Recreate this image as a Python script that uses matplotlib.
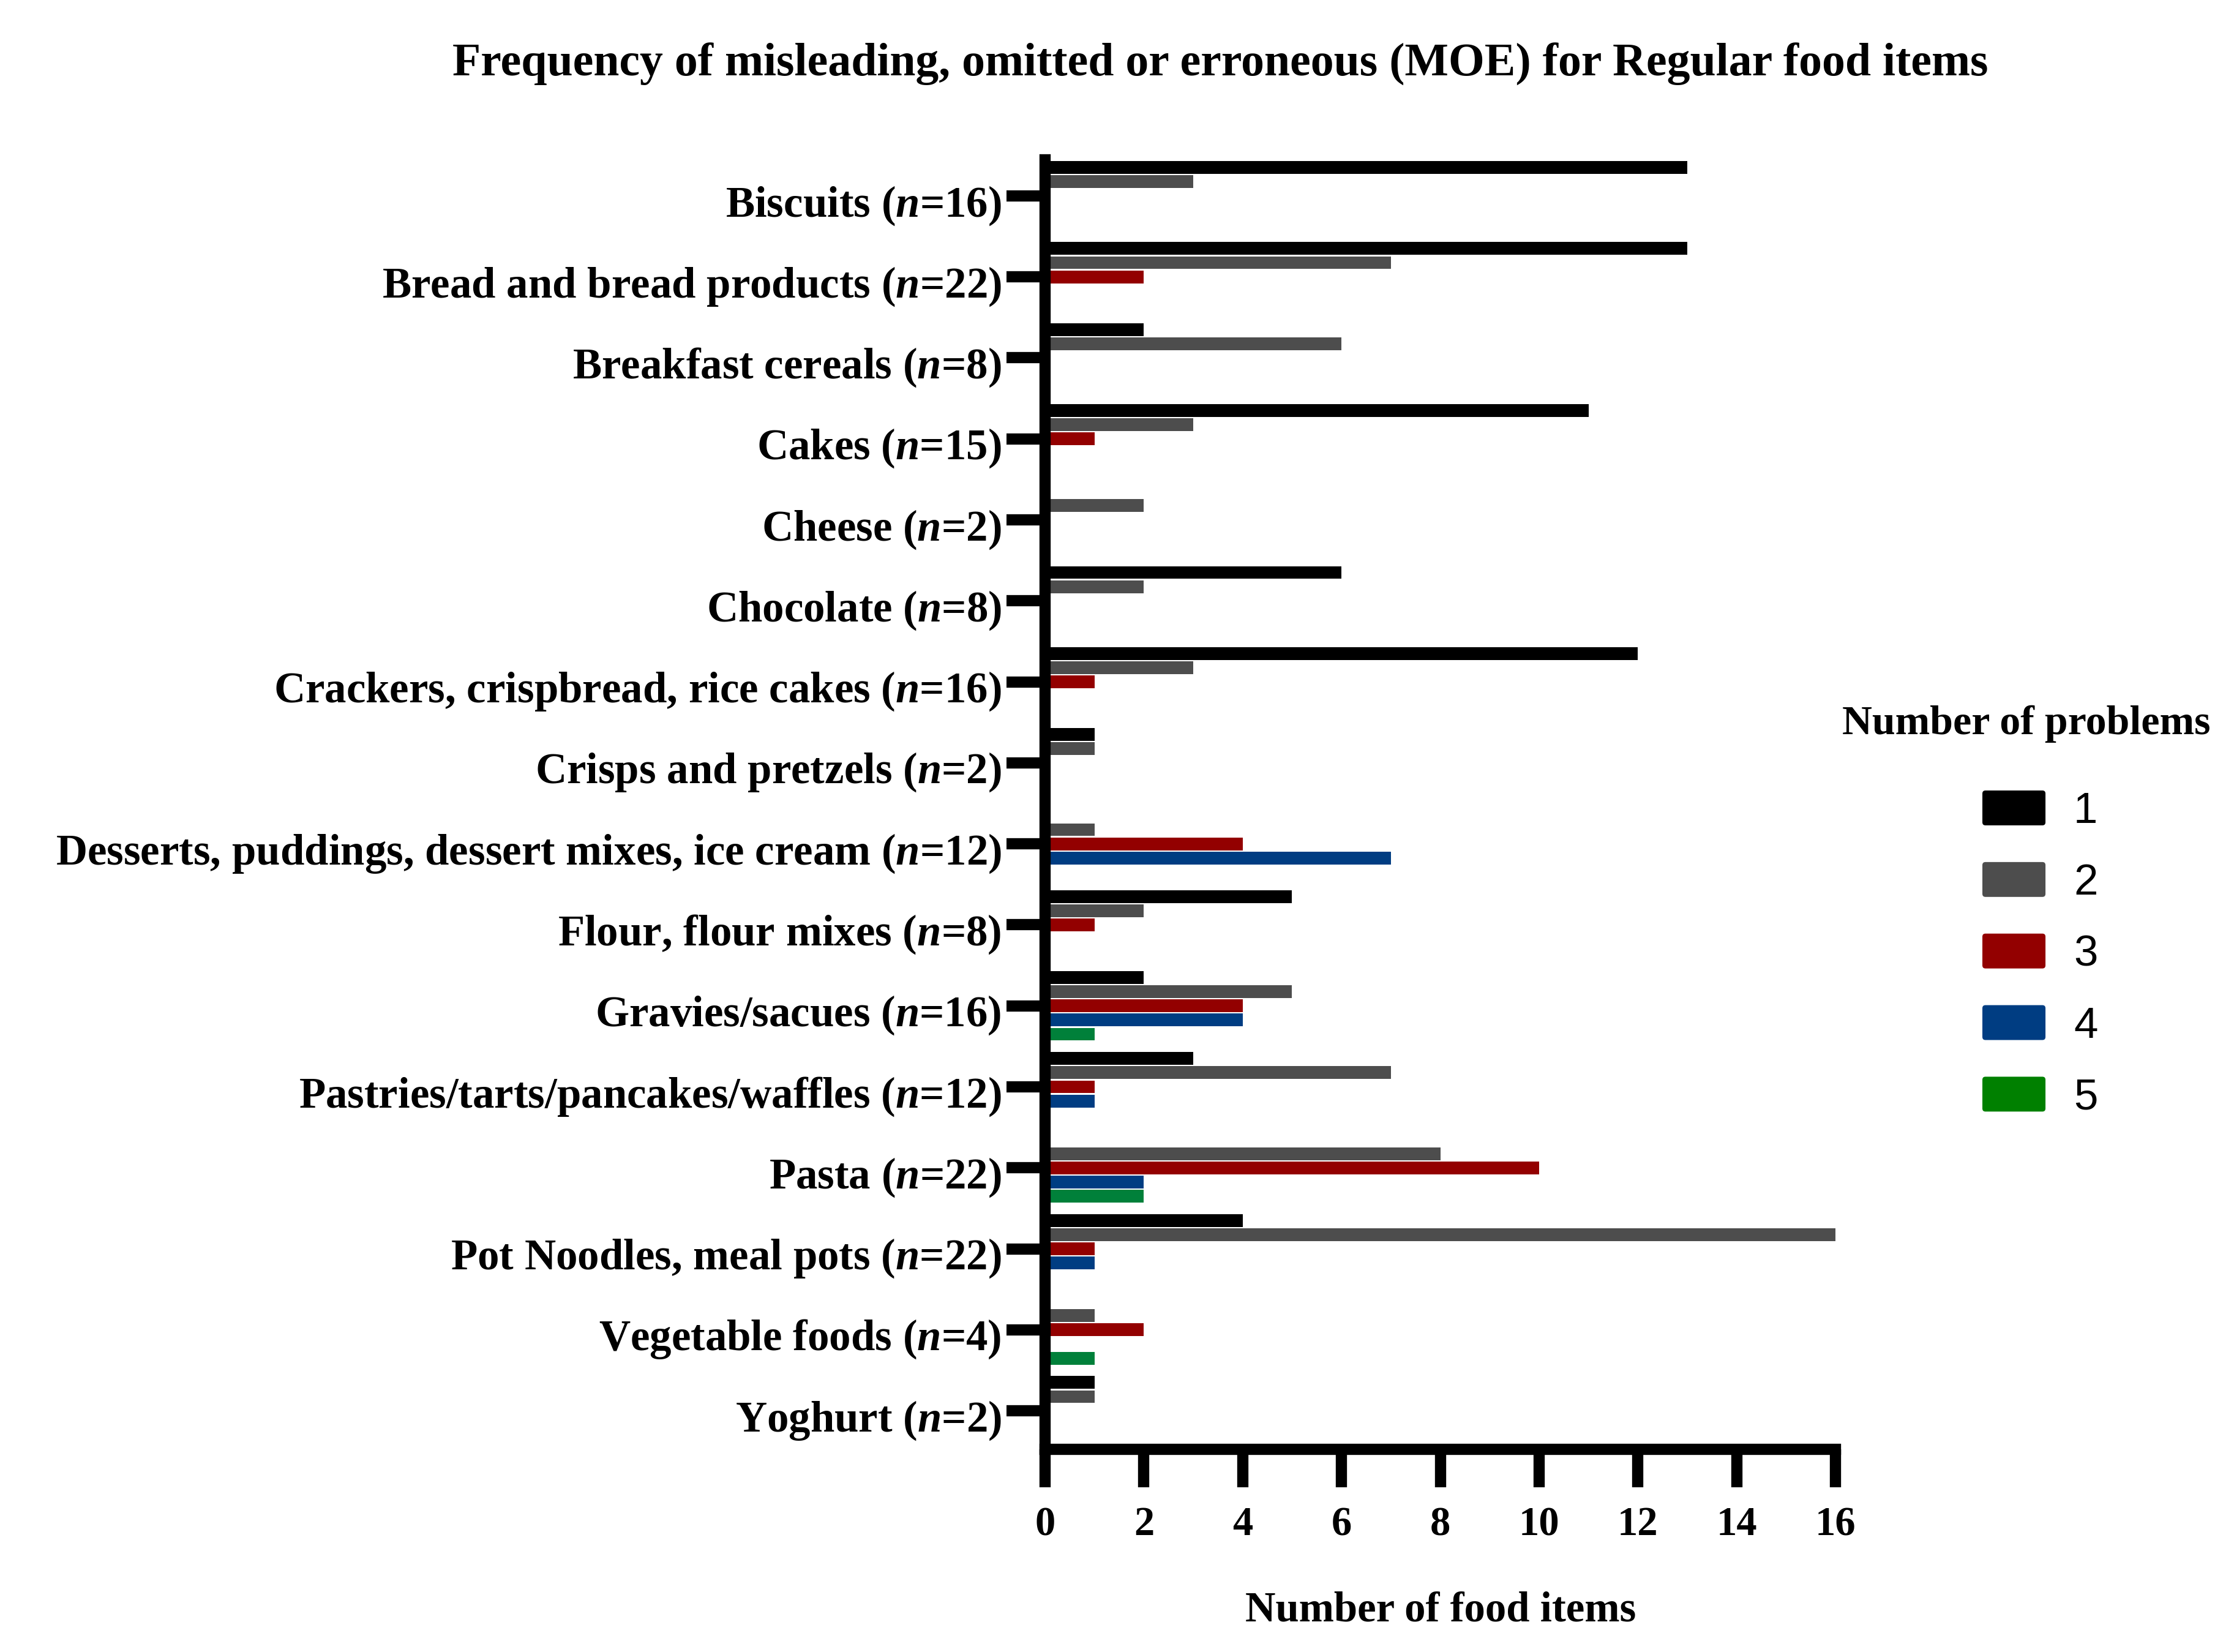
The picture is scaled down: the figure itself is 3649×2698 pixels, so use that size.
import matplotlib
matplotlib.use("Agg")
import matplotlib.pyplot as plt
import matplotlib.transforms as mtransforms
from matplotlib.patches import FancyBboxPatch, Patch
from matplotlib.legend_handler import HandlerPatch
from matplotlib.font_manager import FontProperties

# ---------------- data ----------------
categories = [
    "Biscuits", "Bread and bread products", "Breakfast cereals", "Cakes",
    "Cheese", "Chocolate", "Crackers, crispbread, rice cakes",
    "Crisps and pretzels", "Desserts, puddings, dessert mixes, ice cream",
    "Flour, flour mixes", "Gravies/sacues", "Pastries/tarts/pancakes/waffles",
    "Pasta", "Pot Noodles, meal pots", "Vegetable foods", "Yoghurt",
]
n_values = [16, 22, 8, 15, 2, 8, 16, 2, 12, 8, 16, 12, 22, 22, 4, 2]

problems_1 = [13, 13, 2, 11, 0, 6, 12, 1, 0, 5, 2, 3, 0, 4, 0, 1]
problems_2 = [3, 7, 6, 3, 2, 2, 3, 1, 1, 2, 5, 7, 8, 16, 1, 1]
problems_3 = [0, 2, 0, 1, 0, 0, 1, 0, 4, 1, 4, 1, 10, 1, 2, 0]
problems_4 = [0, 0, 0, 0, 0, 0, 0, 0, 7, 0, 4, 1, 2, 1, 0, 0]
problems_5 = [0, 0, 0, 0, 0, 0, 0, 0, 0, 0, 1, 0, 2, 0, 1, 0]
series_labels = ["1", "2", "3", "4", "5"]
x_ticks = [0, 2, 4, 6, 8, 10, 12, 14, 16]

colors = ["#000000", "#4D4D4D", "#930000", "#003D82", "#00803A"]
legend_colors = ["#000000", "#4D4D4D", "#930000", "#003D82", "#008000"]

# ---------------- style ----------------
plt.rcParams["mathtext.fontset"] = "custom"
plt.rcParams["mathtext.it"] = "Liberation Serif:italic:bold"
plt.rcParams["mathtext.rm"] = "Liberation Serif:bold"
plt.rcParams["mathtext.bf"] = "Liberation Serif:bold"

serif_bold = dict(family="Liberation Serif", weight="bold")

W, H = 3649, 2698
fig = plt.figure(figsize=(W / 300, H / 300), dpi=300)
ax = fig.add_axes([0.4678, 0.1227, 0.8216 - 0.4678, 0.9033 - 0.1227])

all_series = [problems_1, problems_2, problems_3, problems_4, problems_5]
pitch = 0.175
bar_h = 0.157
idx = list(range(len(categories)))
for k, (vals, col) in enumerate(zip(all_series, colors)):
    pos = [i + (k - 2) * pitch for i in idx]
    ax.barh(pos, vals, height=bar_h, color=col, linewidth=0, zorder=1)

ax.set_xlim(0, 16)
ax.set_ylim(15.475, -0.446)

lw = 4.4
for s in ["top", "right"]:
    ax.spines[s].set_visible(False)
for s in ["left", "bottom"]:
    ax.spines[s].set_linewidth(lw)
    ax.spines[s].set_capstyle("projecting")
    ax.spines[s].set_zorder(3)

ax.set_yticks(idx)
ylabels = [f"{c} ($\\mathit{{n}}$={n})" for c, n in zip(categories, n_values)]
ax.set_yticklabels(ylabels, fontsize=17, **serif_bold)
ax.tick_params(axis="y", length=15.1, width=lw, pad=2)
shift = mtransforms.ScaledTranslation(0, -1.7 / 72, fig.dpi_scale_trans)
for lab in ax.get_yticklabels():
    lab.set_transform(lab.get_transform() + shift)

ax.set_xticks(x_ticks)
ax.set_xticklabels([str(t) for t in x_ticks], fontsize=16, **serif_bold)
ax.tick_params(axis="x", length=14.9, width=lw, pad=7.5)

fig.text(1993 / W, 1 - 105 / H,
         "Frequency of misleading, omitted or erroneous (MOE) for Regular food items",
         ha="center", va="center", fontsize=18.2, **serif_bold)
fig.text(2353 / W, 1 - 2630 / H, "Number of food items",
         ha="center", va="center", fontsize=16.5, **serif_bold)

# legend title
fig.text(3310 / W, 1 - 1182 / H, "Number of problems",
         ha="center", va="center", fontsize=16.3, **serif_bold)


def rounded_patch(legend, orig_handle, xdescent, ydescent, width, height, fontsize):
    return FancyBboxPatch((-xdescent, -ydescent), width, height,
                          boxstyle="round,pad=0,rounding_size=1.2")


handles = [Patch(facecolor=c, edgecolor="none") for c in legend_colors]
leg = ax.legend(handles, series_labels, loc="upper left",
                bbox_to_anchor=(3238 / W, 1 - 1291 / H),
                bbox_transform=fig.transFigure, frameon=False,
                prop=FontProperties(family="Liberation Sans", size=17),
                handlelength=1.455, handleheight=0.86, handletextpad=0.65,
                labelspacing=0.69, borderpad=0, borderaxespad=0,
                handler_map={Patch: HandlerPatch(patch_func=rounded_patch)})

fig.savefig("out.png", dpi=300, facecolor="white")
